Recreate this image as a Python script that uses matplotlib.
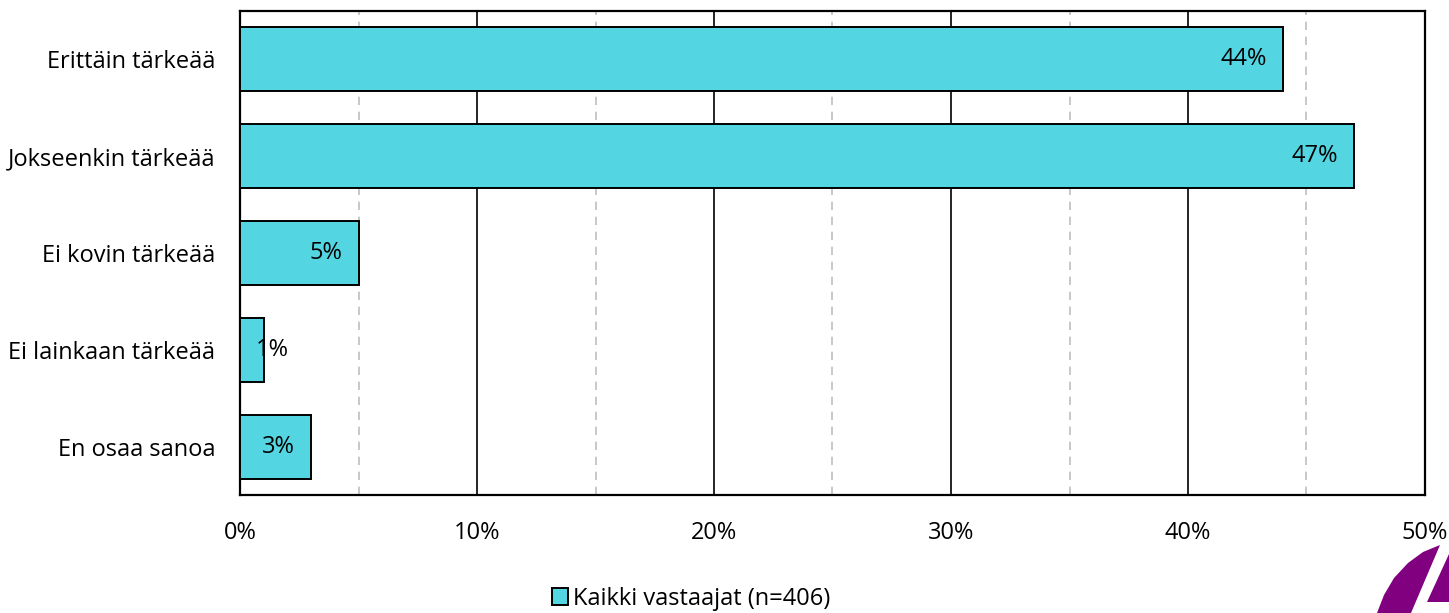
import matplotlib
matplotlib.use("Agg")
import matplotlib.pyplot as plt
from matplotlib.ticker import MultipleLocator, FuncFormatter
from matplotlib.patches import Polygon

categories = ["Erittäin tärkeää", "Jokseenkin tärkeää", "Ei kovin tärkeää",
              "Ei lainkaan tärkeää", "En osaa sanoa"]
values = [44, 47, 5, 1, 3]
labels = ["44%", "47%", "5%", "1%", "3%"]
series_name = "Kaikki vastaajat (n=406)"

plt.rcParams['font.family'] = ['Open Sans', 'DejaVu Sans']
FS = 17
W, H = 1449, 613
fig = plt.figure(figsize=(W/100, H/100), dpi=100)
ax = fig.add_axes([240/W, 1-495/H, (1425-240)/W, (495-11)/H])

ypos = list(range(len(categories)))
bars = ax.barh(ypos, values, height=0.66, color="#53D5E2", edgecolor="black",
               linewidth=1.4, zorder=3, label=series_name)
ax.set_ylim(len(categories)-0.5, -0.5)
ax.set_xlim(0, 50)
ax.xaxis.set_major_locator(MultipleLocator(10))
ax.xaxis.set_minor_locator(MultipleLocator(5))
ax.xaxis.set_major_formatter(FuncFormatter(lambda v, p: f"{int(v)}%"))
ax.grid(which="major", axis="x", color="black", linewidth=1.2, zorder=0)
ax.grid(which="minor", axis="x", color="#BFBFBF", linewidth=1.2, linestyle=(0, (5, 4)), zorder=0)
ax.set_yticks(ypos)
ax.set_yticklabels(categories, fontsize=FS)
ax.tick_params(axis="both", which="both", length=0)
ax.tick_params(axis="x", labelsize=FS, pad=19)
ax.tick_params(axis="y", pad=18)
for s in ax.spines.values():
    s.set_linewidth(1.6)
    s.set_color("black")

px_per_unit = (1425-240)/50
for i, (v, lab) in enumerate(zip(values, labels)):
    if v*px_per_unit < 60:
        ax.annotate(lab, (0, i), xytext=(16*72/100, 0), textcoords="offset points",
                    ha="left", va="center", fontsize=FS, zorder=4)
    else:
        ax.annotate(lab, (v, i), xytext=(-16*72/100, 0), textcoords="offset points",
                    ha="right", va="center", fontsize=FS, zorder=4)

fig.legend(handles=[bars], labels=[series_name], loc="center", bbox_to_anchor=(0.477, 1-599/H),
           frameon=False, fontsize=FS, handlelength=0.7, handleheight=0.7, handletextpad=0.2)

# partial logo in corner (decoration)
def fp(x, y):
    return [x / W, 1 - y / H]
logo1 = Polygon([fp(1377, 613), fp(1384, 595), fp(1394, 578), fp(1408, 563),
                 fp(1423, 552), fp(1440, 545), fp(1411, 613)],
                closed=True, transform=fig.transFigure, color="#800080", lw=0)
logo2 = Polygon([fp(1427, 602), fp(1449, 602), fp(1449, 554)],
                closed=True, transform=fig.transFigure, color="#800080", lw=0)
fig.patches.extend([logo1, logo2])

fig.savefig("out.png", dpi=100)
